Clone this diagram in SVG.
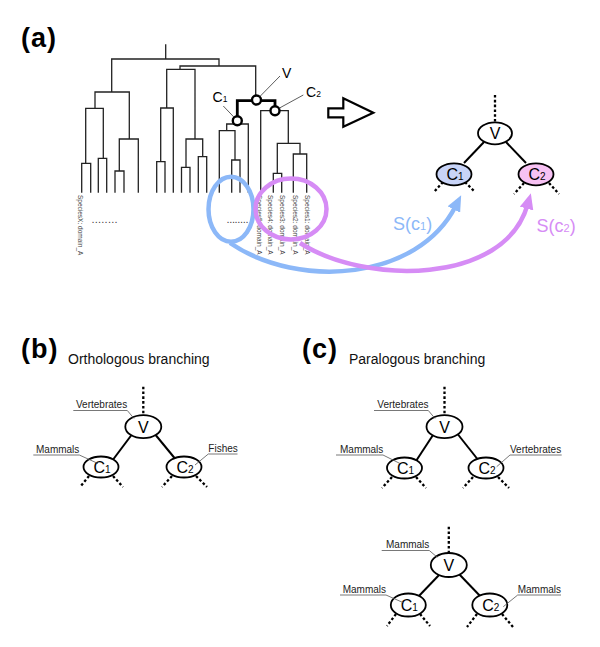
<svg xmlns="http://www.w3.org/2000/svg" width="600" height="647" viewBox="0 0 600 647">
<style>
text{font-family:"Liberation Sans",Arial,Helvetica,sans-serif}
.hd{font-size:27px;font-weight:bold;fill:#000;letter-spacing:1px}
.sub{font-size:14px;fill:#111}
.tl{stroke:#222;stroke-width:1.3;fill:none;stroke-linecap:square}
.thick{stroke:#000;stroke-width:2.8;fill:none}
.tc{fill:#fff;stroke:#000;stroke-width:2.4}
.ptr{stroke:#333;stroke-width:0.8;fill:none}
.leaf{font-size:6.5px;fill:#444}
.dots{font-size:11px;fill:#444}
.nl{font-size:14px;fill:#000}
.nd{fill:#fff;stroke:#000;stroke-width:1.8}
.edge{stroke:#000;stroke-width:2;fill:none}
.dash{stroke:#000;stroke-width:2.3;stroke-dasharray:2.6 2.2;fill:none}
.nt{font-size:16px;fill:#000;text-anchor:middle}
.nt tspan{font-size:10px}
.lab{font-size:10px;fill:#222}
.ul{stroke:#555;stroke-width:0.8;fill:none}
</style>
<defs>
<marker id="ab" markerUnits="userSpaceOnUse" markerWidth="16" markerHeight="14" viewBox="0 0 16 14" refX="4" refY="7" orient="auto"><path d="M0,0 L16,7 L0,14 Z" fill="#8cb8f8"/></marker>
<marker id="ap" markerUnits="userSpaceOnUse" markerWidth="16" markerHeight="14" viewBox="0 0 16 14" refX="4" refY="7" orient="auto"><path d="M0,0 L16,7 L0,14 Z" fill="#d68cf5"/></marker>
</defs>

<text class="hd" x="21" y="47">(a)</text>
<text class="hd" x="21" y="358">(b)</text>
<text class="sub" x="68" y="363.5">Orthologous branching</text>
<text class="hd" x="302" y="358">(c)</text>
<text class="sub" x="349" y="363.5">Paralogous branching</text>

<g id="tree-a">
<path class="tl" d="M165.7,45 V59 M111.7,59 H219 M111.7,59 V92 M95,92 H129.3
M95,92 V108.3 M85.7,108.3 H103.3 M85.7,108.3 V163.3 M81.7,163.3 H90.7 M81.7,163.3 V192 M90.7,163.3 V192
M103.3,108.3 V158.3 M98.3,158.3 H106.7 M98.3,158.3 V192 M106.7,158.3 V192
M129.3,92 V139 M119.3,139 H138.3 M119.3,139 V171 M115,171 H124 M115,171 V192 M124,171 V192 M138.3,139 V192
M219,59 V66 M180,66 H255.7 M180,66 V69.3 M166.7,69.3 H195
M166.7,69.3 V108 M160.7,108 H173.3 M160.7,108 V161.7 M156.7,161.7 H165 M156.7,161.7 V192 M165,161.7 V192 M173.3,108 V192
M195,69.3 V139 M186,139 H202.7 M186,139 V167.3 M181.5,167.3 H190 M181.5,167.3 V192 M190,167.3 V192
M202.7,139 V156.7 M198.3,156.7 H206.7 M198.3,156.7 V192 M206.7,156.7 V192
M255.7,66 V96
M226.7,124 H248.3 M226.7,124 V130.7 M219.3,130.7 H235 M219.3,130.7 V192 M235,130.7 V160 M231.7,160 H240 M231.7,160 V192 M240,160 V192 M248.3,124 V192
M260.7,110.7 H288.3 M260.7,110.7 V192 M288.3,110.7 V143.3 M277.3,143.3 H300 M277.3,143.3 V173.3 M273.3,173.3 H281.7 M273.3,173.3 V192 M281.7,173.3 V192
M300,143.3 V154 M293.3,154 H306.7 M293.3,154 V192 M306.7,154 V192"/>
<path class="thick" d="M237.3,117 V100.7 H275 V107"/>
<path class="tl" d="M237.3,120 V124"/>
<g id="tv"><circle class="tc" cx="256.5" cy="100" r="4.5"/><line class="ptr" x1="280" y1="76" x2="259.8" y2="96.6"/><text class="nl" x="282" y="78">V</text></g>
<g id="tc1"><circle class="tc" cx="237.3" cy="120.7" r="4.5"/><line class="ptr" x1="223.3" y1="106" x2="234" y2="117.2"/><text class="nl" x="212.5" y="101.7">C<tspan font-size="8.5">1</tspan></text></g>
<g id="tc2"><circle class="tc" cx="275" cy="110.7" r="4.5"/><line class="ptr" x1="303.3" y1="95" x2="279" y2="108.3"/><text class="nl" x="306" y="96.7">C<tspan font-size="8.5">2</tspan></text></g>
<text class="leaf" transform="translate(78.4,195) rotate(90)">SpeciesX: domain_A</text>
<text class="leaf" transform="translate(256.7,195) rotate(90)">Species5: domain_A</text>
<text class="leaf" transform="translate(268.4,195) rotate(90)">Species4: domain_A</text>
<text class="leaf" transform="translate(280.4,195) rotate(90)">Species3: domain_A</text>
<text class="leaf" transform="translate(292.7,195) rotate(90)">Species2: domain_A</text>
<text class="leaf" transform="translate(305,195) rotate(90)">Species1: domain_A</text>
<text class="dots" x="91.5" y="223" textLength="26">........</text>
<text class="dots" x="226.5" y="223" textLength="22">........</text>
</g>

<polygon id="big-arrow" points="328.3,108.3 343.3,108.3 343.3,98.3 373.3,112.7 343.3,126.7 343.3,117.3 328.3,117.3" fill="#fff" stroke="#000" stroke-width="2.2" stroke-linejoin="miter"/>

<g id="connectors">
<ellipse cx="231" cy="209.3" rx="22.5" ry="32.5" fill="none" stroke="#8cb8f8" stroke-width="4.5"/>
<path d="M230,243 C300,290 418,280 455.7,206" fill="none" stroke="#8cb8f8" stroke-width="4.5" marker-end="url(#ab)"/>
<ellipse cx="291" cy="209" rx="35.5" ry="30.5" fill="none" stroke="#d68cf5" stroke-width="4.5"/>
<path d="M300,243 C365,285 505,285 527.6,204.7" fill="none" stroke="#d68cf5" stroke-width="4.5" marker-end="url(#ap)"/>
<text x="393" y="229.5" font-size="18" fill="#8cb8f8">S(c<tspan font-size="11">1</tspan>)</text>
<text x="536.5" y="232" font-size="18" fill="#d68cf5">S(c<tspan font-size="11">2</tspan>)</text>

<line class="dash" x1="495" y1="95" x2="495" y2="123"/>
<line class="edge" x1="484" y1="142" x2="464" y2="163"/>
<line class="edge" x1="506" y1="142" x2="526" y2="163"/>
<path class="dash" d="M443,182 L434,192 M465,182 L475,192 M524,183 L514,194 M549,183 L559,194"/>

<line class="dash" x1="143.3" y1="386.7" x2="143.3" y2="416"/>
<line class="edge" x1="133" y1="433" x2="112" y2="461"/>
<line class="edge" x1="154" y1="433" x2="177" y2="461"/>
<path class="dash" d="M89,476 L80,487 M113,476 L123,487 M172,476 L162,487 M196,476 L207,487"/>

<line class="dash" x1="444.5" y1="386.7" x2="444.5" y2="415"/>
<line class="edge" x1="435" y1="432" x2="416" y2="461"/>
<line class="edge" x1="456" y1="432" x2="479" y2="461"/>
<path class="dash" d="M392,477 L382,488 M416,477 L426,488 M473,477 L463,488 M498,477 L509,488"/>

<line class="dash" x1="448.8" y1="526.7" x2="448.8" y2="554"/>
<line class="edge" x1="440" y1="574" x2="417" y2="598"/>
<line class="edge" x1="459" y1="574" x2="482" y2="598"/>
<path class="dash" d="M396,614 L387,626 M420,614 L430,626 M477,614 L467,627 M502,614 L513,627"/>
</g>

<g id="a-V"><ellipse class="nd" cx="495" cy="133.3" rx="17" ry="11"/><text class="nt" x="495" y="139">V</text></g>
<g id="a-C1"><ellipse class="nd" cx="454" cy="174.3" rx="17.5" ry="11" fill="#c8d4f8" style="fill:#c8d4f8"/><text class="nt" x="455" y="180">C<tspan>1</tspan></text></g>
<g id="a-C2"><ellipse class="nd" cx="536" cy="174.3" rx="17.5" ry="11" style="fill:#f7c1f3"/><text class="nt" x="537" y="180">C<tspan>2</tspan></text></g>

<g id="b-V"><ellipse class="nd" cx="143.3" cy="426.7" rx="18" ry="11.5"/><text class="nt" x="143.3" y="432.5">V</text>
<text class="lab" x="76" y="408.3">Vertebrates</text><path class="ul" d="M73.3,410.5 H127.3 L134,418.5"/></g>
<g id="b-C1"><ellipse class="nd" cx="101" cy="467" rx="17.5" ry="10.5"/><text class="nt" x="102" y="473">C<tspan>1</tspan></text>
<text class="lab" x="36" y="452.7">Mammals</text><path class="ul" d="M33.3,455 H79.3 L98,463.5"/></g>
<g id="b-C2"><ellipse class="nd" cx="184" cy="467" rx="17.5" ry="10.5"/><text class="nt" x="185" y="473">C<tspan>2</tspan></text>
<text class="lab" x="208.3" y="451.7">Fishes</text><path class="ul" d="M237.5,454 H208.3 L195,465"/></g>

<g id="c1-V"><ellipse class="nd" cx="444.5" cy="426.7" rx="18" ry="11.5"/><text class="nt" x="444.5" y="432.5">V</text>
<text class="lab" x="377.3" y="408.3">Vertebrates</text><path class="ul" d="M374,410.5 H428.3 L435,418.5"/></g>
<g id="c1-C1"><ellipse class="nd" cx="404.5" cy="468" rx="17.5" ry="10.5"/><text class="nt" x="405.5" y="474">C<tspan>1</tspan></text>
<text class="lab" x="340" y="452.7">Mammals</text><path class="ul" d="M336,455 H383 L400,463.5"/></g>
<g id="c1-C2"><ellipse class="nd" cx="486" cy="468" rx="17.5" ry="10.5"/><text class="nt" x="487" y="474">C<tspan>2</tspan></text>
<text class="lab" x="510" y="452.7">Vertebrates</text><path class="ul" d="M561.7,455 H510 L496.7,466.7"/></g>

<g id="c2-V"><ellipse class="nd" cx="448.8" cy="565" rx="18" ry="12"/><text class="nt" x="448.8" y="571">V</text>
<text class="lab" x="386" y="548.3">Mammals</text><path class="ul" d="M381.7,550.5 H429.3 L437.3,557.3"/></g>
<g id="c2-C1"><ellipse class="nd" cx="408.3" cy="605" rx="17.5" ry="11.5"/><text class="nt" x="409.3" y="611">C<tspan>1</tspan></text>
<text class="lab" x="342.7" y="592.7">Mammals</text><path class="ul" d="M340,595 H386 L403.3,602.7"/></g>
<g id="c2-C2"><ellipse class="nd" cx="489.8" cy="605" rx="17.5" ry="11.5"/><text class="nt" x="490.8" y="611">C<tspan>2</tspan></text>
<text class="lab" x="517.7" y="592.7">Mammals</text><path class="ul" d="M561,595 H517.7 L503.3,606.7"/></g>
</svg>
